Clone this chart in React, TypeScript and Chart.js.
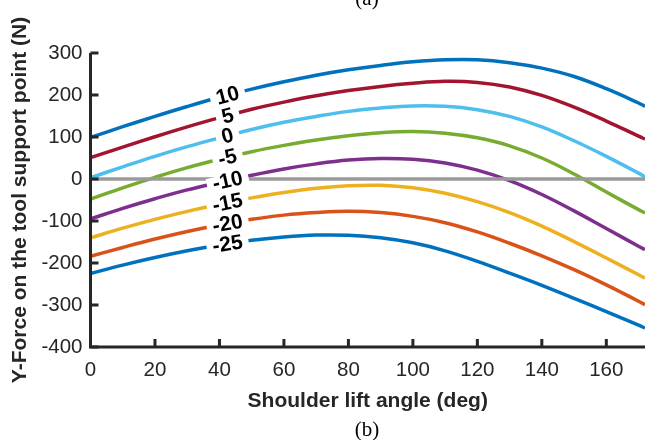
import { useEffect, useRef } from 'react';
import { Chart, registerables } from 'chart.js';

Chart.register(...registerables);

// Shoulder lift angle (deg)
const angles = [0, 10, 20, 30, 40, 50, 60, 70, 80, 90, 100, 110, 120, 130, 140, 150, 160, 170, 172];

// Y-force (N) for each contour level
const force10 = [99, 124.5, 149, 172.5, 194.5, 214, 231.5, 247, 260, 270.5, 279, 284, 284, 277, 264, 244, 215, 181, 173];
const force5 = [51, 76, 100.5, 124, 146, 166, 183, 198, 210.5, 220.5, 228, 232.5, 230, 219, 199, 171, 138, 102, 95];
const force0 = [3, 29, 54, 77, 98, 118, 135, 149, 161, 169, 174, 173, 165, 149, 124, 91, 54, 14, 5];
const forceM5 = [-48, -21, 4, 27, 47, 65, 80, 93, 103, 110, 113, 109, 98, 79, 50, 12, -31, -73, -81];
const forceM10 = [-95, -70, -47, -26, -8, 9, 24, 36, 45, 49, 47, 38, 21, -4, -37, -76, -118, -160, -168];
const forceM15 = [-140, -117, -96, -77, -60, -45, -32, -22, -16, -15, -21, -34, -54, -80, -112, -149, -188, -228, -236];
const forceM20 = [-184, -163, -143, -125, -109, -96, -86, -80, -77, -80, -89, -104, -126, -153, -183, -216, -252, -291, -299];
const forceM25 = [-225, -205, -187, -171, -157, -146, -138, -133.5, -134, -140, -152, -171, -196, -224, -253, -284, -316, -348, -355];

const levelLabels = ['10', '5', '0', '-5', '-10', '-15', '-20', '-25'];
const seriesValues = [force10, force5, force0, forceM5, forceM10, forceM15, forceM20, forceM25];
const seriesColors = ['#0072BD', '#A2142F', '#4DBEEE', '#77AC30', '#7E2F8E', '#EDB120', '#D95319', '#0072BD'];

const zeroLine = [0, 0];
const zeroLineX = [0, 172];

const xTicks = [0, 20, 40, 60, 80, 100, 120, 140, 160];
const yTicks = [-400, -300, -200, -100, 0, 100, 200, 300];

const X_MIN = 0;
const X_MAX = 172;
const Y_MIN = -400;
const Y_MAX = 300;
const LABEL_AT = 42.5;

const SANS = '"Liberation Sans", Arial, Helvetica, sans-serif';
const SERIF = '"Liberation Serif", "Times New Roman", serif';
const AXIS_COLOR = '#262626';

function interp(xs: number[], ys: number[], x: number): number {
  for (let i = 0; i < xs.length - 1; i++) {
    if (x >= xs[i] && x <= xs[i + 1]) {
      const t = (x - xs[i]) / (xs[i + 1] - xs[i]);
      return ys[i] + t * (ys[i + 1] - ys[i]);
    }
  }
  return ys[ys.length - 1];
}

const inlineLabelsPlugin = {
  id: 'inlineLabels',
  afterDatasetsDraw(chart: any) {
    const { ctx } = chart;
    const xs = chart.scales.x;
    const ys = chart.scales.y;
    ctx.save();
    ctx.font = `bold 21px ${SANS}`;
    const items = seriesValues.map((vals, i) => {
      const text = levelLabels[i];
      const v = interp(angles, vals, LABEL_AT);
      const va = interp(angles, vals, LABEL_AT - 5);
      const vb = interp(angles, vals, LABEL_AT + 5);
      const px = xs.getPixelForValue(LABEL_AT);
      const py = ys.getPixelForValue(v);
      const ang = Math.atan2(
        ys.getPixelForValue(vb) - ys.getPixelForValue(va),
        xs.getPixelForValue(LABEL_AT + 5) - xs.getPixelForValue(LABEL_AT - 5)
      );
      const w = ctx.measureText(text).width + 12;
      return { text, px, py, ang, w };
    });
    items.forEach((it) => {
      ctx.save();
      ctx.translate(it.px, it.py);
      ctx.rotate(it.ang);
      ctx.fillStyle = '#ffffff';
      ctx.fillRect(-it.w / 2, -6, it.w, 12);
      ctx.restore();
    });
    items.forEach((it) => {
      ctx.save();
      ctx.translate(it.px, it.py);
      ctx.rotate(it.ang);
      ctx.fillStyle = '#000000';
      ctx.textAlign = 'center';
      ctx.textBaseline = 'middle';
      ctx.fillText(it.text, 0, 1);
      ctx.restore();
    });
    ctx.restore();
  },
};

const axesPlugin = {
  id: 'matlabAxes',
  afterDraw(chart: any) {
    const { ctx, chartArea } = chart;
    const { left, right, top, bottom } = chartArea;
    const xs = chart.scales.x;
    const ys = chart.scales.y;
    ctx.save();
    ctx.strokeStyle = AXIS_COLOR;
    ctx.lineWidth = 3;
    ctx.lineJoin = 'miter';
    ctx.lineCap = 'butt';
    ctx.beginPath();
    ctx.moveTo(left, top);
    ctx.lineTo(left, bottom);
    ctx.lineTo(right, bottom);
    ctx.stroke();
    ctx.beginPath();
    xTicks.forEach((v) => {
      const px = xs.getPixelForValue(v);
      ctx.moveTo(px, bottom);
      ctx.lineTo(px, bottom - 8);
    });
    yTicks.forEach((v) => {
      const py = ys.getPixelForValue(v);
      ctx.moveTo(left, py);
      ctx.lineTo(left + 8, py);
    });
    ctx.stroke();
    ctx.restore();
  },
};

export default function App() {
  const canvasRef = useRef<HTMLCanvasElement | null>(null);

  useEffect(() => {
    if (!canvasRef.current) return;
    const datasets: any[] = seriesValues.map((vals, i) => ({
      label: levelLabels[i],
      data: angles.map((a, j) => ({ x: a, y: vals[j] })),
      borderColor: seriesColors[i],
      borderWidth: 3.5,
      pointRadius: 0,
      fill: false,
      tension: 0.4,
    }));
    datasets.push({
      label: 'zero',
      data: zeroLineX.map((a, j) => ({ x: a, y: zeroLine[j] })),
      borderColor: '#9a9a9a',
      borderWidth: 3.5,
      pointRadius: 0,
      fill: false,
      order: -1,
    });

    const chart = new Chart(canvasRef.current, {
      type: 'line',
      data: { datasets },
      plugins: [inlineLabelsPlugin, axesPlugin],
      options: {
        animation: false,
        responsive: false,
        devicePixelRatio: 1,
        layout: { padding: { top: 53, right: 1, left: 0, bottom: 0 } },
        plugins: {
          legend: { display: false },
          tooltip: { enabled: false },
          title: { display: false },
        },
        scales: {
          x: {
            type: 'linear',
            min: X_MIN,
            max: X_MAX,
            grid: { display: false, drawTicks: false },
            border: { display: false },
            afterBuildTicks: (scale: any) => {
              scale.ticks = xTicks.map((v) => ({ value: v }));
            },
            afterFit: (scale: any) => {
              scale.height = 93;
            },
            ticks: {
              color: AXIS_COLOR,
              padding: 11,
              maxRotation: 0,
              autoSkip: false,
              font: { family: SANS, size: 20.5 },
            },
            title: {
              display: true,
              text: 'Shoulder lift angle (deg)',
              color: AXIS_COLOR,
              font: { family: SANS, size: 21, weight: 'bold' },
              padding: { top: 0, bottom: 26 },
            },
          },
          y: {
            type: 'linear',
            min: Y_MIN,
            max: Y_MAX,
            grid: { display: false, drawTicks: false },
            border: { display: false },
            afterBuildTicks: (scale: any) => {
              scale.ticks = yTicks.map((v) => ({ value: v }));
            },
            afterFit: (scale: any) => {
              scale.width = 90.5;
            },
            ticks: {
              color: AXIS_COLOR,
              padding: 8,
              autoSkip: false,
              font: { family: SANS, size: 20.5 },
            },
            title: {
              display: true,
              text: 'Y-Force on the tool support point (N)',
              color: AXIS_COLOR,
              font: { family: SANS, size: 21, weight: 'bold' },
              padding: { top: 8, bottom: 0 },
            },
          },
        },
      } as any,
    });
    return () => chart.destroy();
  }, []);

  return (
    <div style={{ position: 'absolute', left: 0, top: 0, width: 646, height: 440, overflow: 'hidden', background: '#fff' }}>
      <canvas ref={canvasRef} width={646} height={440} style={{ display: 'block' }} />
      <div
        style={{
          position: 'absolute', left: 0, width: 734, top: -12, textAlign: 'center',
          fontFamily: SERIF, fontSize: 21, lineHeight: '21px', color: '#000',
        }}
      >
        (a)
      </div>
      <div
        style={{
          position: 'absolute', left: 0, width: 734, top: 419, textAlign: 'center',
          fontFamily: SERIF, fontSize: 21, lineHeight: '21px', color: '#000',
        }}
      >
        (b)
      </div>
    </div>
  );
}
